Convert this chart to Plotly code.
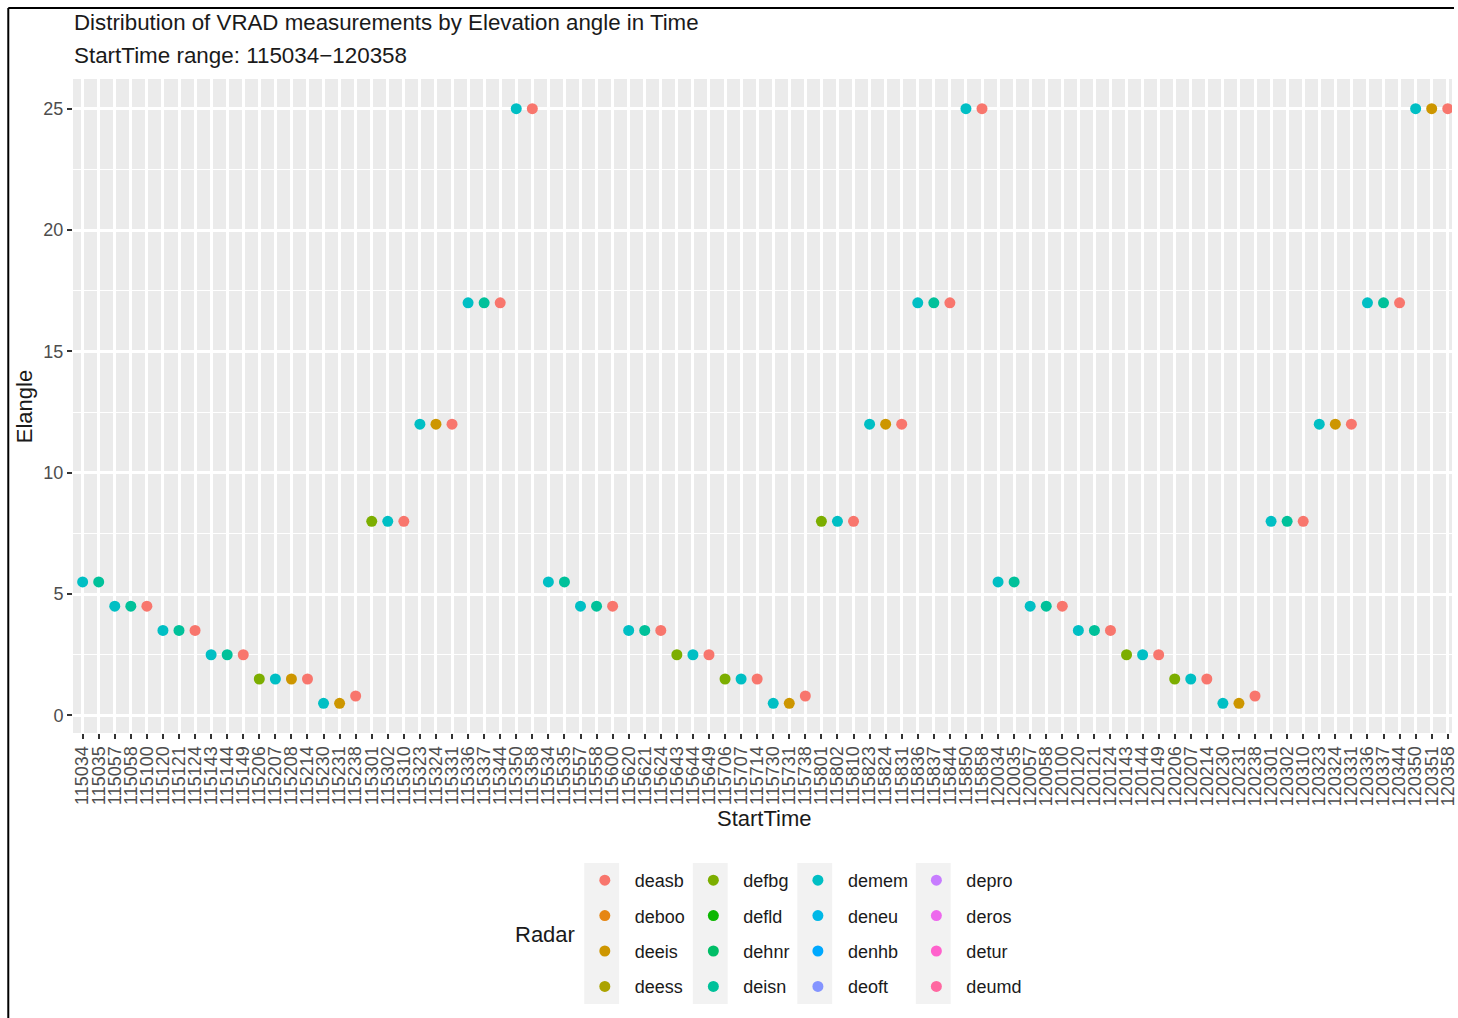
import plotly.graph_objects as go

# Scan start times (HHMMSS) in plotting order
start_time = [
    "115034", "115035", "115057", "115058", "115100", "115120", "115121", "115124",
    "115143", "115144", "115149", "115206", "115207", "115208", "115214", "115230",
    "115231", "115238", "115301", "115302", "115310", "115323", "115324", "115331",
    "115336", "115337", "115344", "115350", "115358",
    "115534", "115535", "115557", "115558", "115600", "115620", "115621", "115624",
    "115643", "115644", "115649", "115706", "115707", "115714", "115730", "115731",
    "115738", "115801", "115802", "115810", "115823", "115824", "115831", "115836",
    "115837", "115844", "115850", "115858",
    "120034", "120035", "120057", "120058", "120100", "120120", "120121", "120124",
    "120143", "120144", "120149", "120206", "120207", "120214", "120230", "120231",
    "120238", "120301", "120302", "120310", "120323", "120324", "120331", "120336",
    "120337", "120344", "120350", "120351", "120358",
]

# Elevation angle of each scan
elangle = [
    5.5, 5.5, 4.5, 4.5, 4.5, 3.5, 3.5, 3.5, 2.5, 2.5, 2.5, 1.5, 1.5, 1.5, 1.5, 0.5,
    0.5, 0.8, 8, 8, 8, 12, 12, 12, 17, 17, 17, 25, 25,
    5.5, 5.5, 4.5, 4.5, 4.5, 3.5, 3.5, 3.5, 2.5, 2.5, 2.5, 1.5, 1.5, 1.5, 0.5, 0.5,
    0.8, 8, 8, 8, 12, 12, 12, 17, 17, 17, 25, 25,
    5.5, 5.5, 4.5, 4.5, 4.5, 3.5, 3.5, 3.5, 2.5, 2.5, 2.5, 1.5, 1.5, 1.5, 0.5, 0.5,
    0.8, 8, 8, 8, 12, 12, 12, 17, 17, 17, 25, 25, 25,
]

# Radar that delivered each scan
radar = [
    "demem", "deisn", "demem", "deisn", "deasb", "demem", "deisn", "deasb",
    "demem", "deisn", "deasb", "defbg", "demem", "deeis", "deasb", "demem",
    "deeis", "deasb", "defbg", "demem", "deasb", "demem", "deeis", "deasb",
    "demem", "deisn", "deasb", "demem", "deasb",
    "demem", "deisn", "demem", "deisn", "deasb", "demem", "deisn", "deasb",
    "defbg", "demem", "deasb", "defbg", "demem", "deasb", "demem", "deeis",
    "deasb", "defbg", "demem", "deasb", "demem", "deeis", "deasb", "demem",
    "deisn", "deasb", "demem", "deasb",
    "demem", "deisn", "demem", "deisn", "deasb", "demem", "deisn", "deasb",
    "defbg", "demem", "deasb", "defbg", "demem", "deasb", "demem", "deeis",
    "deasb", "demem", "deisn", "deasb", "demem", "deeis", "deasb", "demem",
    "deisn", "deasb", "demem", "deeis", "deasb",
]

# All radar levels of the factor with their hue colours
radar_levels = [
    "deasb", "deboo", "deeis", "deess", "defbg", "defld", "dehnr", "deisn",
    "demem", "deneu", "denhb", "deoft", "depro", "deros", "detur", "deumd",
]
radar_colors = [
    "#F8766D", "#E68613", "#CD9600", "#ABA300", "#7CAE00", "#0CB702", "#00BE67", "#00C19A",
    "#00BFC4", "#00B8E7", "#00A9FF", "#8494FF", "#C77CFF", "#ED68ED", "#FF61CC", "#FF68A1",
]

y_ticks = [0, 5, 10, 15, 20, 25]

FONT = "Liberation Sans, Arial, sans-serif"

# Page geometry (pixels) of the plotting panel
FIG_W, FIG_H = 1458, 1018
L, R, T, B = 73, 1458, 79, 733
W, H = R - L, B - T


def px(x):
    return (x - L) / W


def py(y):
    return (B - y) / H


fig = go.Figure()

legend_names = ["legend", "legend2", "legend3", "legend4"]
for i, (name, color) in enumerate(zip(radar_levels, radar_colors)):
    xs = [t for t, r in zip(start_time, radar) if r == name]
    ys = [e for e, r in zip(elangle, radar) if r == name]
    if not xs:
        xs, ys = [None], [None]
    fig.add_trace(go.Scatter(
        x=xs, y=ys, mode="markers", name=name,
        marker=dict(color=color, size=11, line=dict(width=0)),
        legend=legend_names[i // 4], legendgroup=name,
        hoverinfo="x+y+name",
    ))

cat_px = 16.13
x_hi = -0.6 + W / cat_px

fig.update_layout(
    width=FIG_W, height=FIG_H,
    margin=dict(l=L, r=FIG_W - R, t=T, b=FIG_H - B, pad=0),
    paper_bgcolor="white",
    plot_bgcolor="#EBEBEB",
    font=dict(family=FONT, color="#1A1A1A"),
    xaxis=dict(
        type="category", categoryorder="array", categoryarray=start_time,
        range=[-0.6, x_hi],
        tickmode="array", tickvals=start_time, ticktext=start_time,
        tickangle=-90, tickfont=dict(size=18, color="#4D4D4D", family=FONT),
        ticks="outside", ticklen=5, tickwidth=2, tickcolor="#333333",
        showgrid=True, gridcolor="white", gridwidth=2.6,
        zeroline=False, showline=False,
    ),
    yaxis=dict(
        range=[-0.725, 26.225],
        tickmode="array", tickvals=y_ticks,
        tickfont=dict(size=18, color="#4D4D4D", family=FONT),
        ticks="outside", ticklen=5, tickwidth=2, tickcolor="#333333",
        showgrid=True, gridcolor="white", gridwidth=2.6,
        minor=dict(tickmode="array", tickvals=[2.5, 7.5, 12.5, 17.5, 22.5],
                   showgrid=True, gridcolor="white", gridwidth=1.3, ticks=""),
        zeroline=False, showline=False,
    ),
    showlegend=True,
)

# Four legend columns, each a vertical stack of four radars
key_x = [604, 713, 818, 937]
for name, kx in zip(legend_names, key_x):
    fig.update_layout({name: dict(
        x=px(kx - 27), y=py(862), xanchor="left", yanchor="top",
        orientation="v", itemwidth=50, tracegroupgap=9,
        bgcolor="rgba(0,0,0,0)", borderwidth=0,
        font=dict(size=18, color="#1A1A1A", family=FONT),
    )})

shapes = []
# Grey backing strips behind the legend keys
for kx in key_x:
    shapes.append(dict(type="rect", xref="paper", yref="paper",
                       x0=px(kx - 17.5), x1=px(kx + 17.5), y0=py(1004), y1=py(863),
                       fillcolor="#F2F2F2", line=dict(width=0), layer="below"))
# Frame lines along the top and left edges
shapes.append(dict(type="line", xref="paper", yref="paper",
                   x0=px(8), x1=px(1460), y0=py(8), y1=py(8),
                   line=dict(color="black", width=2)))
shapes.append(dict(type="line", xref="paper", yref="paper",
                   x0=px(8), x1=px(8), y0=py(8), y1=py(1020),
                   line=dict(color="black", width=2)))
fig.update_layout(shapes=shapes)

annotations = [
    dict(text="Distribution of VRAD measurements by Elevation angle in Time",
         x=px(72), y=py(23), xanchor="left", yanchor="middle",
         font=dict(size=22.3, color="#1A1A1A", family=FONT)),
    dict(text="StartTime range: 115034\u2212120358",
         x=px(72), y=py(55), xanchor="left", yanchor="middle",
         font=dict(size=22.4, color="#1A1A1A", family=FONT)),
    dict(text="Elangle", x=px(25), y=py(407), textangle=-90,
         xanchor="center", yanchor="middle",
         font=dict(size=22, color="#1A1A1A", family=FONT)),
    dict(text="StartTime", x=px(768), y=py(818),
         xanchor="center", yanchor="middle",
         font=dict(size=22, color="#1A1A1A", family=FONT)),
    dict(text="Radar", x=px(515), y=py(934),
         xanchor="left", yanchor="middle",
         font=dict(size=22, color="#1A1A1A", family=FONT)),
]
for a in annotations:
    a.update(xref="paper", yref="paper", showarrow=False)
fig.update_layout(annotations=annotations)

fig.write_html("out.html")
